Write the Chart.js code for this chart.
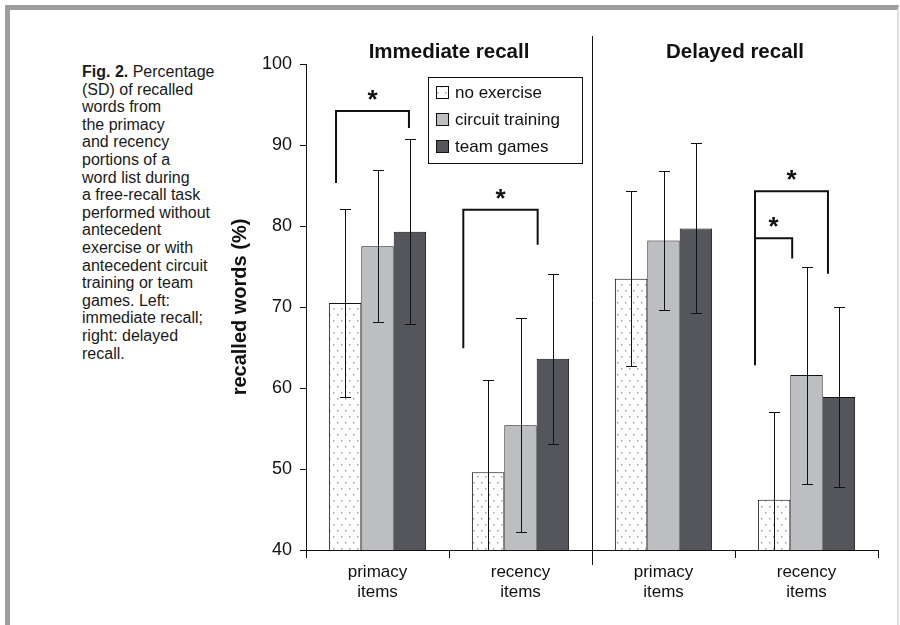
<!DOCTYPE html>
<html>
<head>
<meta charset="utf-8">
<script src="https://cdn.jsdelivr.net/npm/chart.js@4.4.1/dist/chart.umd.min.js"></script>
<style>
  html, body { margin: 0; padding: 0; background: #fff; }
  #page { position: relative; width: 900px; height: 625px; overflow: hidden;
          font-family: "Liberation Sans", Arial, Helvetica, sans-serif; color: #1a1a1a; }
  #frame { position: absolute; left: 5px; top: 5px; right: 1px; bottom: -20px;
           border-top: 5px solid #9d9d9d; border-left: 5px solid #9d9d9d; border-right: 2px solid #dedede; }
  #caption { position: absolute; left: 82px; top: 63px; width: 160px;
             font-size: 16px; line-height: 17.6px; white-space: nowrap; }
  #c { position: absolute; left: 0; top: 0; }
</style>
</head>
<body>
<div id="page">
  <div id="frame"></div>
  <div id="caption"><b>Fig. 2.</b> Percentage<br>(SD) of recalled<br>words from<br>the primacy<br>and recency<br>portions of a<br>word list during<br>a free-recall task<br>performed without<br>antecedent<br>exercise or with<br>antecedent circuit<br>training or team<br>games. Left:<br>immediate recall;<br>right: delayed<br>recall.</div>
  <canvas id="c" width="900" height="625"></canvas>
</div>
<script>
/* ── data ── */
const categories = [['primacy', 'items'], ['recency', 'items'], ['primacy', 'items'], ['recency', 'items']];
const panels = ['Immediate recall', 'Delayed recall'];
const groups = ['no exercise', 'circuit training', 'team games'];

const noExercise      = [70.5, 49.6, 73.5, 46.2];
const circuitTraining = [77.5, 55.4, 78.2, 61.6];
const teamGames       = [79.3, 63.6, 79.7, 58.9];

const sdNoExercise      = [11.6, 11.4, 10.8, 10.8];
const sdCircuitTraining = [9.4, 13.2, 8.6, 13.4];
const sdTeamGames       = [11.4, 10.5, 10.5, 11.1];

const yTicks = [40, 50, 60, 70, 80, 90, 100];

// significance brackets (category index, legs in category units, heights in %)
const bracketCat      = [0, 1, 3, 3];
const bracketLeft     = [-0.29, -0.40, -0.36, -0.36];
const bracketRight    = [0.22, 0.12, 0.15, -0.10];
const bracketTop      = [94.2, 82.0, 84.3, 78.5];
const bracketLeftEnd  = [85.3, 64.9, 62.8, 78.5];
const bracketRightEnd = [92.1, 77.7, 74.1, 76.0];

const FONT = '"Liberation Sans", Arial, Helvetica, sans-serif';
const INK = '#111';

const canvas = document.getElementById('c');
const ctx0 = canvas.getContext('2d');

// dotted fill for "no exercise"
function dotPattern() {
  const t = document.createElement('canvas');
  t.width = 8; t.height = 12;
  const g = t.getContext('2d');
  g.fillStyle = '#fff'; g.fillRect(0, 0, 8, 12);
  g.fillStyle = '#a3a3a3';
  g.fillRect(1, 2, 1.5, 1.5);
  g.fillRect(5, 8, 1.5, 1.5);
  return ctx0.createPattern(t, 'repeat');
}
const fills = [dotPattern(), '#bdbec2', '#55565b'];

const decor = {
  id: 'decor',
  afterDatasetsDraw(chart) {
    const { ctx, chartArea: a, scales: { x, y } } = chart;
    ctx.save();

    // error bars
    ctx.strokeStyle = INK;
    ctx.lineWidth = 1;
    chart.data.datasets.forEach((ds, i) => {
      chart.getDatasetMeta(i).data.forEach((bar, j) => {
        const bx = Math.round(bar.x) + 0.5;
        const hi = Math.round(y.getPixelForValue(ds.data[j] + ds.sd[j])) + 0.5;
        const loRaw = y.getPixelForValue(ds.data[j] - ds.sd[j]);
        const lo = Math.round(Math.min(loRaw, a.bottom)) + 0.5;
        ctx.beginPath();
        ctx.moveTo(bx, hi); ctx.lineTo(bx, lo);
        ctx.moveTo(bx - 5.5, hi); ctx.lineTo(bx + 5.5, hi);
        if (loRaw < a.bottom) { ctx.moveTo(bx - 5.5, lo); ctx.lineTo(bx + 5.5, lo); }
        ctx.stroke();
      });
    });

    // divider between the two panels
    const dx = Math.round(x.getPixelForValue(1.5)) + 0.5;
    ctx.beginPath();
    ctx.moveTo(dx, 36); ctx.lineTo(dx, a.bottom + 15);
    ctx.stroke();

    // panel titles
    ctx.fillStyle = INK;
    ctx.font = 'bold 20.5px ' + FONT;
    ctx.textAlign = 'center';
    ctx.textBaseline = 'middle';
    panels.forEach((p, k) => ctx.fillText(p, x.getPixelForValue(0.5 + 2 * k), 52));

    // significance brackets
    ctx.lineWidth = 2;
    ctx.lineJoin = 'miter';
    ctx.font = 'bold 26px ' + FONT;
    ctx.textBaseline = 'alphabetic';
    bracketCat.forEach((c, k) => {
      const xl = x.getPixelForValue(c + bracketLeft[k]);
      const xr = x.getPixelForValue(c + bracketRight[k]);
      const yt = y.getPixelForValue(bracketTop[k]);
      ctx.beginPath();
      ctx.moveTo(xl, y.getPixelForValue(bracketLeftEnd[k]));
      ctx.lineTo(xl, yt);
      ctx.lineTo(xr, yt);
      ctx.lineTo(xr, y.getPixelForValue(bracketRightEnd[k]));
      ctx.stroke();
      ctx.fillText('*', (xl + xr) / 2, yt - 3);
    });

    // legend
    const lx = 428, ly = 77, lw = 154, lh = 86;
    ctx.lineWidth = 1;
    ctx.fillStyle = '#fff';
    ctx.fillRect(lx, ly, lw, lh);
    ctx.strokeRect(lx + 0.5, ly + 0.5, lw, lh);
    ctx.font = '17px ' + FONT;
    ctx.textAlign = 'left';
    ctx.textBaseline = 'middle';
    chart.data.datasets.forEach((ds, i) => {
      const ry = ly + 15 + i * 27;
      ctx.fillStyle = ds.backgroundColor;
      ctx.fillRect(lx + 8, ry - 6, 12, 12);
      ctx.strokeRect(lx + 8.5, ry - 5.5, 12, 12);
      ctx.fillStyle = INK;
      ctx.fillText(ds.label, lx + 27, ry + 1);
    });

    ctx.restore();
  }
};

new Chart(canvas, {
  type: 'bar',
  data: {
    labels: categories,
    datasets: [
      { label: groups[0], data: noExercise, sd: sdNoExercise, backgroundColor: fills[0] },
      { label: groups[1], data: circuitTraining, sd: sdCircuitTraining, backgroundColor: fills[1] },
      { label: groups[2], data: teamGames, sd: sdTeamGames, backgroundColor: fills[2] },
    ].map(d => ({ ...d, borderColor: INK, borderWidth: 1, barPercentage: 1, categoryPercentage: 0.68 })),
  },
  options: {
    responsive: false,
    animation: false,
    layout: { padding: { left: 220, top: 64, right: 22, bottom: 0 } },
    plugins: { legend: { display: false }, tooltip: { enabled: false } },
    scales: {
      x: {
        afterFit: s => { s.height = 75; },
        border: { display: true, color: INK, width: 1 },
        grid: { drawOnChartArea: false, drawTicks: true, tickLength: 8, color: INK, offset: true },
        ticks: { color: INK, padding: 4, maxRotation: 0, font: { family: FONT, size: 17 } },
      },
      y: {
        min: 40, max: 100,
        afterFit: s => { s.width = 86; },
        afterBuildTicks: s => { s.ticks = yTicks.map(v => ({ value: v })); },
        border: { display: true, color: INK, width: 1 },
        grid: { drawOnChartArea: false, drawTicks: true, tickLength: 6, color: INK },
        ticks: { color: INK, padding: 8, font: { family: FONT, size: 18 } },
        title: {
          display: true, text: 'recalled words (%)', color: INK,
          font: { family: FONT, size: 20, weight: 'bold' }, padding: { top: 8, bottom: 0 },
        },
      },
    },
  },
  plugins: [decor],
});
</script>
</body>
</html>
